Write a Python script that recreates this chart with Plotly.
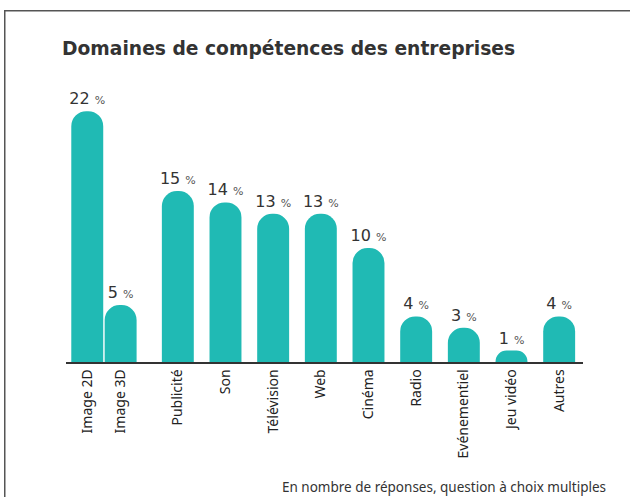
import plotly.graph_objects as go

categories = ["Image 2D", "Image 3D", "Publicité", "Son", "Télévision", "Web",
              "Cinéma", "Radio", "Evénementiel", "Jeu vidéo", "Autres"]
values = [22, 5, 15, 14, 13, 13, 10, 4, 3, 1, 4]

title = "Domaines de compétences des entreprises"
footnote = "En nombre de réponses, question à choix multiples"

BAR = "#20bab4"
W, H = 630, 497
L, R, T, B = 66, 47, 77, 135

# the two "Image" bars share the first slot, the others get one slot each
xpos = [-0.4, 0.3] + [i + 1.5 for i in range(len(categories) - 2)]
bounds = list(range(1, len(categories) - 1))
xrange = [-0.846, 10]

labels = [f"{v} <span style='font-size:11px;color:#555'>%</span>" for v in values]

fig = go.Figure()
fig.add_trace(go.Bar(
    x=xpos, y=values, width=0.67,
    marker=dict(color=BAR, line=dict(width=0), cornerradius="50%"),
    text=labels, textposition="outside", cliponaxis=False,
    constraintext="none",
    textfont=dict(family="DejaVu Sans", size=16, color="#333"),
    hoverinfo="skip",
))

pw = W - L - R
ph = H - T - B


def px_x(p):
    return (p - L) / pw


def px_y(p):
    return (H - B - p) / ph


# frame as thin filled strips (outlined shapes rendered unreliably up there)
strip = dict(type="rect", xref="paper", yref="paper",
             fillcolor="#555", line=dict(width=0))
shapes = [
    dict(strip, x0=px_x(4), x1=px_x(W), y0=px_y(11.5), y1=px_y(10)),
    dict(strip, x0=px_x(4), x1=px_x(5.5), y0=px_y(H), y1=px_y(10)),
]

fig.update_layout(
    width=W, height=H,
    margin=dict(l=L, r=R, t=T, b=B),
    plot_bgcolor="white", paper_bgcolor="white",
    showlegend=False,
    title=dict(text=f"<b>{title}</b>", xref="container", yref="container",
               x=62 / W, xanchor="left", y=1 - 48 / H, yanchor="middle",
               font=dict(family="DejaVu Sans", size=18.7, color="#333")),
    xaxis=dict(range=xrange, tickvals=xpos, ticktext=categories, tickangle=-90,
               ticks="", showgrid=False, zeroline=False,
               showline=True, linecolor="#333", linewidth=1.5,
               tickfont=dict(family="Noto Sans", size=14, color="#222")),
    xaxis2=dict(range=xrange, overlaying="x", anchor="y", side="bottom",
                tickvals=bounds, ticks="inside", ticklen=6, tickcolor="#333",
                tickwidth=1, showticklabels=False, showgrid=False,
                zeroline=False, showline=False),
    yaxis=dict(range=[0, 25], visible=False),
    annotations=[dict(text=footnote, xref="paper", yref="paper",
                      x=px_x(608), y=px_y(487),
                      xanchor="right", yanchor="middle", showarrow=False,
                      font=dict(family="Noto Sans", size=13.5, color="#333"))],
    shapes=shapes,
)

fig.write_html("out.html", config={"displayModeBar": False},
               post_script="document.body.style.margin='0';")
